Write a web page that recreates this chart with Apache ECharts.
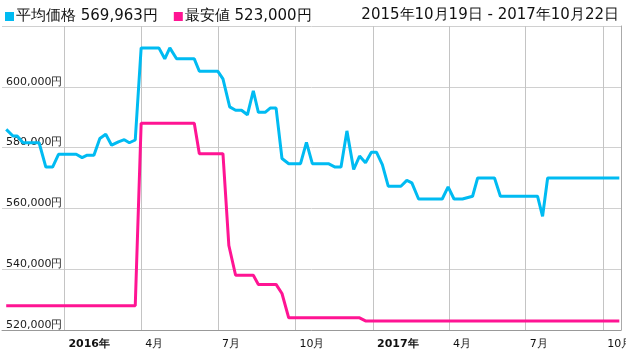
<!DOCTYPE html>
<html>
<head>
<meta charset="utf-8">
<script src="https://cdn.jsdelivr.net/npm/echarts@6/dist/echarts.min.js"></script>
<style>
html,body{margin:0;padding:0;background:#fff;}
#chart{width:626px;height:352px;}
</style>
</head>
<body>
<div id="chart"></div>
<script>
// ---- data ----
const avgName = '平均価格';
const minName = '最安値';
const avgLatest = 569963;
const minLatest = 523000;
const rangeStart = '2015-10-19';
const rangeEnd = '2017-10-22';
const rangeText = '2015年10月19日 - 2017年10月22日';

const avgDates = ['2015-10-24','2015-11-01','2015-11-06','2015-11-13','2015-12-02','2015-12-10','2015-12-18','2015-12-25',
  '2016-01-15','2016-01-22','2016-01-28','2016-02-05','2016-02-12','2016-02-19','2016-02-26','2016-03-05','2016-03-12',
  '2016-03-18','2016-03-25','2016-04-01','2016-04-22','2016-04-29','2016-05-05','2016-05-13','2016-06-03','2016-06-09',
  '2016-07-01','2016-07-07','2016-07-15','2016-07-22','2016-07-29','2016-08-05','2016-08-12','2016-08-18','2016-08-26',
  '2016-09-01','2016-09-08','2016-09-15','2016-09-23','2016-10-07','2016-10-14','2016-10-21','2016-11-09','2016-11-17',
  '2016-11-24','2016-12-01','2016-12-09','2016-12-16','2016-12-23','2016-12-30','2017-01-05','2017-01-12','2017-01-19',
  '2017-02-03','2017-02-10','2017-02-16','2017-02-24','2017-03-24','2017-03-31','2017-04-07','2017-04-17','2017-04-29',
  '2017-05-05','2017-05-25','2017-06-01','2017-07-15','2017-07-21','2017-07-27','2017-10-20'];
const avgValues = [586000,583800,583800,581600,581600,573600,573600,577800,
  577800,576700,577500,577500,583000,584400,580800,581900,582600,
  581600,582500,612800,612800,609200,612800,609200,609200,605100,
  605100,602600,593400,592300,592300,590800,598700,591600,591600,
  593000,593000,576400,574700,574700,581700,574700,574700,573600,
  573600,585500,572800,577200,575000,578500,578500,574400,567300,
  567300,569200,568400,563100,563100,567100,563100,563100,564000,
  570000,570000,564000,564000,557400,570000,570000];

const minDates = ['2015-10-24','2016-03-25','2016-04-01','2016-06-03','2016-06-09','2016-07-07','2016-07-14','2016-07-22',
  '2016-08-12','2016-08-18','2016-09-08','2016-09-15','2016-09-23','2016-12-16','2016-12-23','2017-10-20'];
const minValues = [528000,528000,588000,588000,578000,578000,547800,538000,
  538000,535000,535000,532000,524000,524000,523000,523000];

const xTickDates = ['2016-01-01','2016-04-01','2016-07-01','2016-10-01','2017-01-01','2017-04-01','2017-07-01','2017-10-01'];
const yMin = 520000, yMax = 620000, yStep = 20000;

// ---- chart ----
const fmtNum = v => String(v).replace(/\B(?=(\d{3})+(?!\d))/g, ',');
const ts = s => { const p = s.split('-').map(Number); return Date.UTC(p[0], p[1] - 1, p[2]); };
const zip = (d, v) => d.map((x, i) => [ts(x), v[i]]);
const tickTs = xTickDates.map(ts);

const chart = echarts.init(document.getElementById('chart'), null, {renderer: 'canvas'});
chart.setOption({
  animation: false,
  color: ['#00bbf2', '#ff1493'],
  title: {
    text: rangeText, right: 2, top: 3,
    textStyle: {fontSize: 15, fontWeight: 'normal', color: '#111', fontFamily: 'DejaVu Sans'}
  },
  legend: {
    left: 0, top: 4, itemGap: 16, itemWidth: 9, itemHeight: 9, icon: 'rect',
    data: [avgName, minName],
    formatter: n => n + ' ' + fmtNum(n === avgName ? avgLatest : minLatest) + '円',
    textStyle: {fontSize: 15, color: '#111', fontFamily: 'DejaVu Sans', padding: [0, 0, 0, -3]}
  },
  grid: {left: 2, right: 5, top: 26, bottom: 22, containLabel: false, outerBoundsMode: 'none'},
  xAxis: {
    type: 'value',
    min: ts(rangeStart), max: ts(rangeEnd),
    axisLine: {show: true, onZero: false, lineStyle: {color: '#999', width: 1}},
    axisTick: {show: false, customValues: tickTs},
    splitLine: {show: true, lineStyle: {color: '#c4c4c4', width: 1}},
    axisLabel: {
      customValues: tickTs,
      align: 'left', margin: 9, padding: [0, 0, 0, 4],
      fontSize: 11, color: '#111', fontFamily: 'DejaVu Sans',
      formatter: v => {
        const d = new Date(v);
        const m = d.getUTCMonth() + 1;
        return m === 1 ? '{b|' + d.getUTCFullYear() + '年}' : m + '月';
      },
      rich: {b: {fontWeight: 'bold', fontSize: 11, color: '#111', fontFamily: 'DejaVu Sans'}}
    }
  },
  yAxis: [{
    type: 'value', min: yMin, max: yMax, interval: yStep,
    axisLine: {show: false}, axisTick: {show: false},
    splitLine: {show: true, lineStyle: {color: '#d0d0d0', width: 1}},
    axisLabel: {
      inside: true, margin: 4, verticalAlign: 'bottom', showMaxLabel: false,
      fontSize: 11, color: '#1a1a1a', fontFamily: 'DejaVu Sans', lineHeight: 10,
      formatter: v => fmtNum(v) + '円'
    }
  }, {
    type: 'value', min: yMin, max: yMax, interval: yStep, position: 'right',
    axisLine: {show: true, lineStyle: {color: '#aaa'}}, axisTick: {show: false},
    axisLabel: {show: false}, splitLine: {show: false}
  }],
  series: [{
    name: avgName, type: 'line', showSymbol: false, z: 3,
    lineStyle: {width: 3, color: '#00bbf2'},
    data: zip(avgDates, avgValues)
  }, {
    name: minName, type: 'line', showSymbol: false, z: 2,
    lineStyle: {width: 3, color: '#ff1493'},
    data: zip(minDates, minValues)
  }]
});
</script>
</body>
</html>
